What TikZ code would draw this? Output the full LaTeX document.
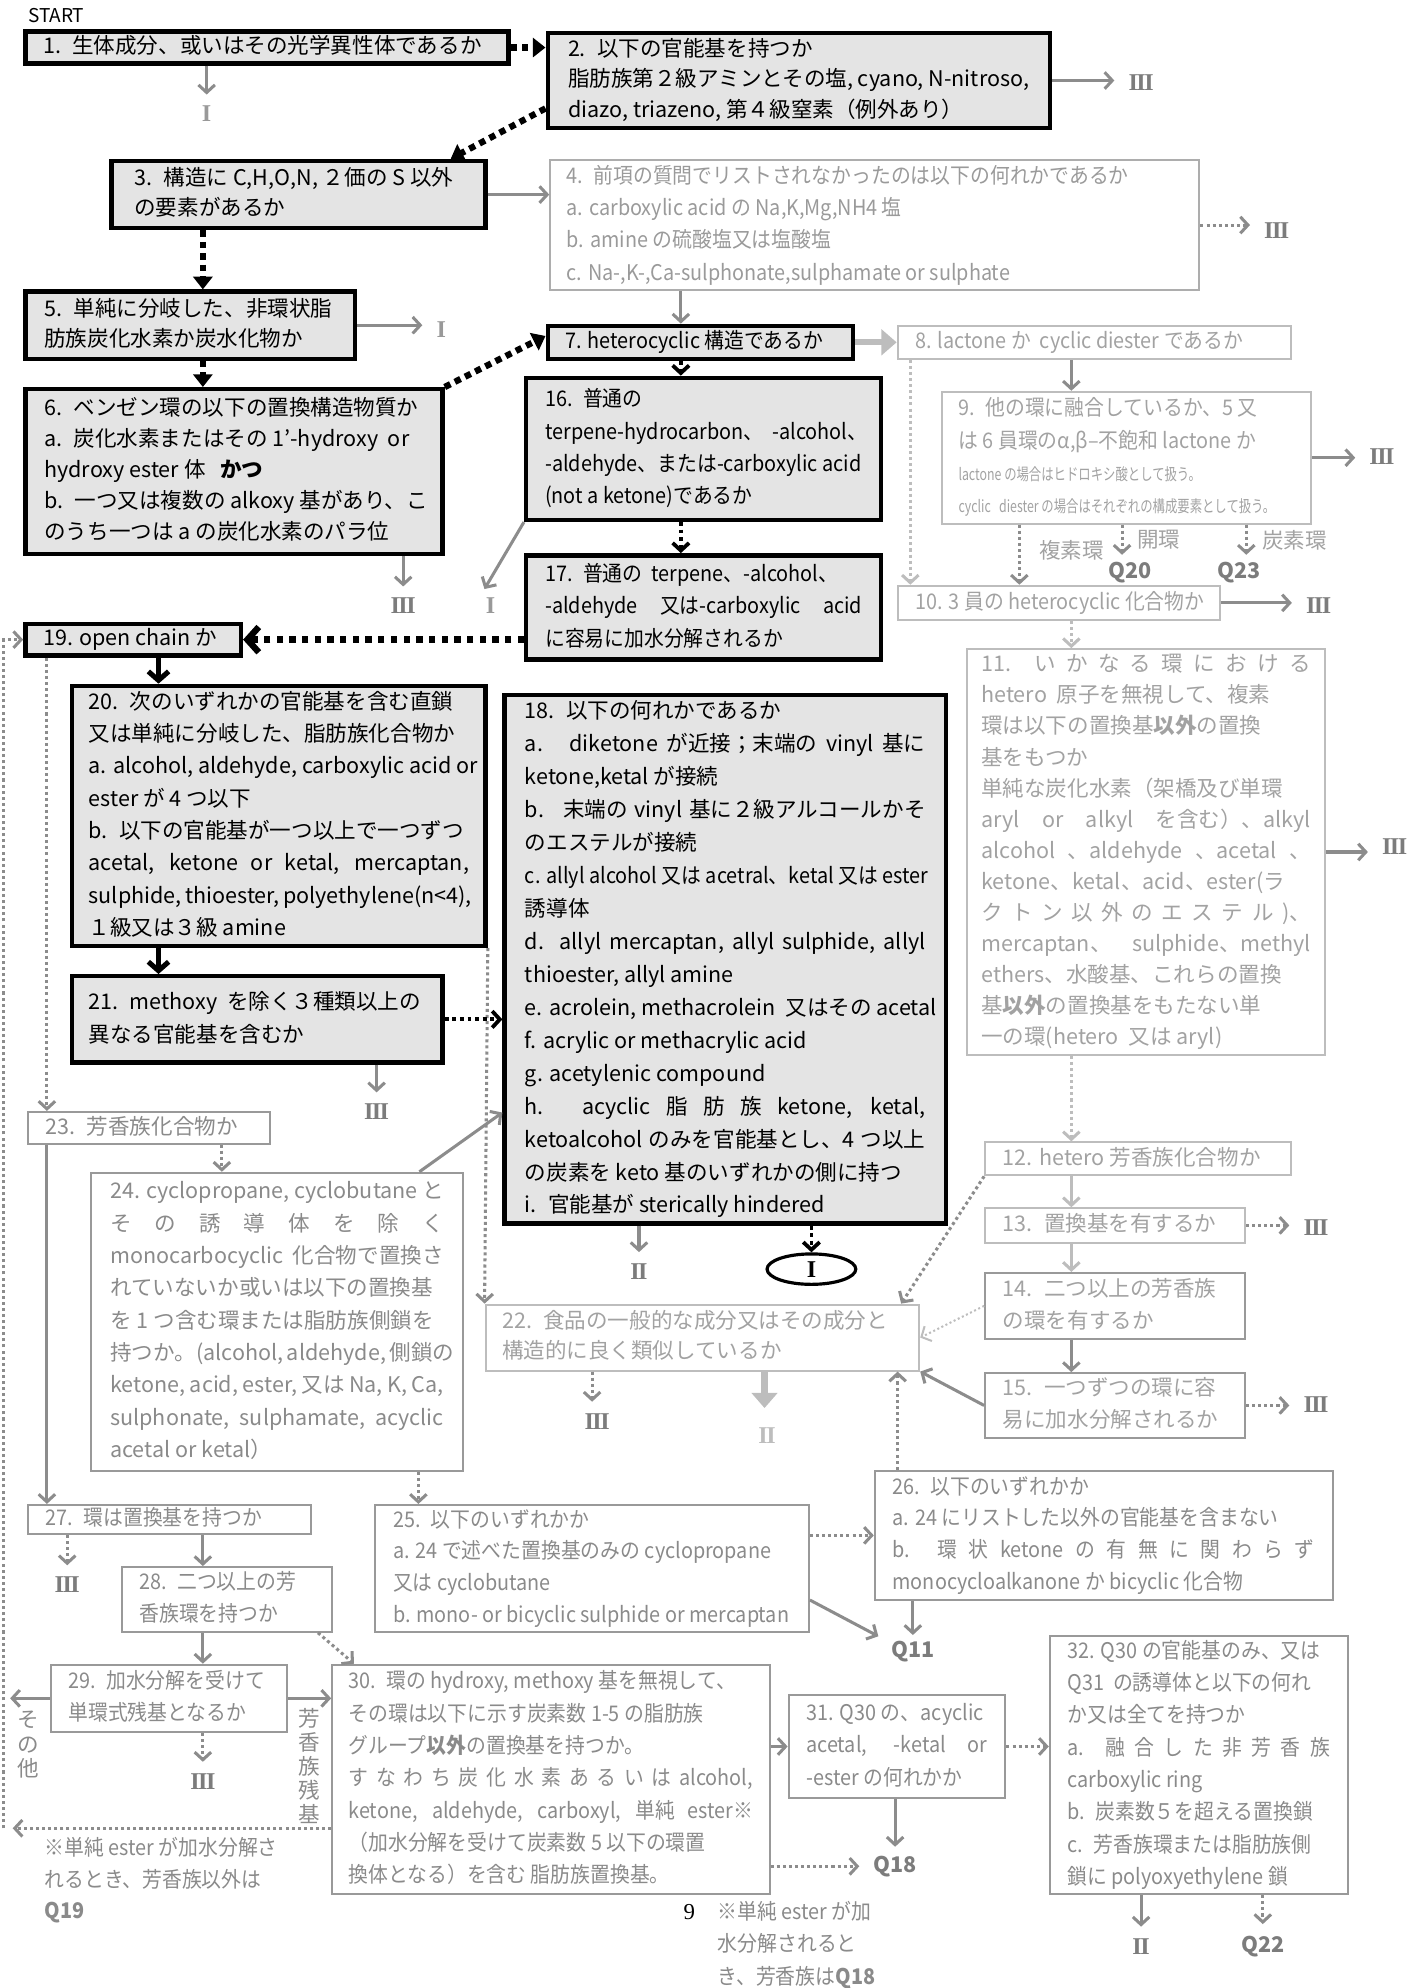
\documentclass[tikz,border=0pt]{standalone}
\usepackage{fontspec}
\setmainfont{Noto Sans CJK JP}
\newfontfamily\cond{Noto Sans CJK JP}[FakeStretch=0.92]
\newfontfamily\vcond{Noto Sans CJK JP}[FakeStretch=0.75]
\newfontfamily\serifn{Liberation Serif}
\usetikzlibrary{arrows.meta,calc,shapes.geometric}
\definecolor{stip}{HTML}{E4E4E4}
\definecolor{cA}{HTML}{8C8C8C}
\definecolor{cL}{HTML}{BDBDBD}
\definecolor{cLT}{HTML}{A2A2A2}
\definecolor{cMB}{HTML}{999999}
\definecolor{cMT}{HTML}{8A8A8A}
\definecolor{cR}{HTML}{7C7C7C}
\definecolor{cB4}{HTML}{ADADAD}
\definecolor{cT4}{HTML}{9A9A9A}
\newcommand\fsb[1]{\fontsize{17}{#1}\selectfont}
\newcommand\xs{12}
\newcommand\spr[1]{\makebox[\tw pt][s]{#1}}
\newcommand\RI{I}
\newcommand\RII{I\kern-1.2pt I}
\newcommand\RIII{I\kern-1.2pt I\kern-1.2pt I}
\newcommand\bx[7]{%
  \pgfmathsetmacro\bw{#5-#3}%
  \pgfmathsetmacro\bh{#6-#4}%
  \pgfmathsetmacro\tw{#5-#3-2*\xs}%
  \node[#1, minimum width=\bw pt, minimum height=\bh pt, inner xsep=\xs pt]
    (#2) at ({(#3+#5)/2},{(#4+#6)/2})
    {\makebox[\tw pt][l]{\begin{tabular}{@{}l@{}}#7\end{tabular}}};}
\tikzset{
  bk/.style={rectangle, draw=black, line width=3.5pt, fill=stip, text=black, inner ysep=0pt, font=\fsb{25}},
  gb/.style={rectangle, draw=cMB, line width=1.6pt, text=cMT, inner ysep=0pt, font=\fsb{25}},
  lb/.style={rectangle, draw=cL, line width=1.6pt, text=cLT, inner ysep=0pt, font=\fsb{25}},
  g4/.style={lb, draw=cB4, text=cT4},
  g14/.style={lb, draw=cMB},
  lab/.style={text=cR, inner sep=1pt, font=\fontsize{19}{20}\selectfont\serifn\bfseries},
  wlab/.style={text=cLT, inner sep=1pt, font=\fontsize{17}{20}\selectfont},
  qlab/.style={text=cR, inner sep=1pt, font=\fontsize{17}{20}\selectfont\bfseries},
  garr/.style={draw=cA, line width=2.4pt, -{Straight Barb[length=6pt,width=13pt]}},
  gdot/.style={garr, dash pattern=on 2.4pt off 2.4pt},
  larr/.style={draw=cL, line width=2.4pt, -{Straight Barb[length=6pt,width=13pt]}},
  ldot/.style={larr, dash pattern=on 2.4pt off 2.4pt},
  lthin/.style={larr, line width=1.6pt, dash pattern=on 1.6pt off 2pt},
  lthick/.style={draw=cL, line width=5pt, -{Triangle[length=12pt,width=20pt]}},
  kdot/.style={draw=black, line width=5pt, dash pattern=on 5pt off 4pt, -{Triangle[length=10pt,width=15pt]}},
  kdotc/.style={draw=black, line width=5pt, dash pattern=on 5pt off 5pt, -{Straight Barb[length=9pt,width=20pt]}},
  karr/.style={draw=black, line width=4pt, -{Straight Barb[length=7pt,width=16pt]}},
  kdotv/.style={draw=black, line width=3pt, dash pattern=on 3pt off 3pt, -{Straight Barb[length=6pt,width=13pt]}},
}
\begin{document}
\begin{tikzpicture}[x=1pt,y=-1pt]
\useasboundingbox (0,0) rectangle (1109,1568);
\node[anchor=west, inner sep=0pt, font=\fontsize{15}{18}\selectfont] (start) at (22,12) {START};
% ---------- boxes
\renewcommand\xs{14}
\bx{bk}{n1}{20}{25}{401}{50}{1.~ 生体成分、或いはその光学異性体であるか}
\renewcommand\xs{16}
\bx{bk,font=\fsb{24}}{n2}{432}{26}{828}{101}{2.~ 以下の官能基を持つか\\脂肪族第２級アミンとその塩, cyano, N-nitroso,\\diazo, triazeno, 第４級窒素（例外あり）}
\renewcommand\xs{18}
\bx{bk,font=\fsb{24}}{n3}{88}{127}{383}{180}{3.~ 構造に C,H,O,N, ２価の S 以外\\の要素があるか}
\renewcommand\xs{13}
\bx{g4,font={\cond\fsb{25.5}}}{n4}{434}{127}{946}{228}{4.~ 前項の質問でリストされなかったのは以下の何れかであるか\\a. carboxylic acid の Na,K,Mg,NH4 塩\\b. amine の硫酸塩又は塩酸塩\\c. Na-,K-,Ca-sulphonate,sulphamate or sulphate}
\renewcommand\xs{15}
\bx{bk,font=\fsb{24}}{n5}{20}{230}{280}{283}{5.~ 単純に分岐した、非環状脂\\肪族炭化水素か炭水化物か}
\bx{bk,font=\fsb{24.5}}{n6}{20}{307}{349}{437}{6.~ ベンゼン環の以下の置換構造物質か\\a.~ 炭化水素またはその 1'-hydroxy~ or\\hydroxy ester 体~~~\textbf{かつ}\\b.~ 一つ又は複数の alkoxy 基があり、こ\\のうち一つは a の炭化水素のパラ位}
\renewcommand\xs{14}
\bx{bk,font={\cond\fsb{25}}}{n7}{432}{257}{673}{283}{7. heterocyclic 構造であるか}
\bx{lb,font={\cond\fsb{25}}}{n8}{708}{257}{1018}{283}{8. lactone か~ cyclic diester であるか}
\renewcommand\xs{13}
\bx{lb,font={\cond\fsb{25.5}}}{n9}{743}{309}{1034}{413}{9.~ 他の環に融合しているか、5 又\\は 6 員環のα,β–不飽和 lactone か\\{\vcond\fontsize{13}{25}\selectfont lactone の場合はヒドロキシ酸として扱う。}\\{\vcond\fontsize{13}{25}\selectfont cyclic~~ diester の場合はそれぞれの構成要素として扱う。}}
\renewcommand\xs{14}
\bx{lb,font={\cond\fsb{25}}}{n10}{708}{462}{962}{489}{10. 3 員の heterocyclic 化合物か}
\renewcommand\xs{11}
\bx{lb,font=\fsb{24.5}}{n11}{763}{512}{1045}{832}{\spr{11. い か な る 環 に お け る}\\hetero~ 原子を無視して、複素\\環は以下の置換基\textbf{以外}の置換\\基をもつか\\単純な炭化水素（架橋及び単環\\\spr{aryl or alkyl を含む）、alkyl}\\\spr{alcohol 、aldehyde 、acetal 、}\\ketone、ketal、acid、ester(ラ\\\spr{ク ト ン 以 外 の エ ス テ ル )、}\\\spr{mercaptan、 sulphide、methyl}\\ethers、水酸基、これらの置換\\基\textbf{以外}の置換基をもたない単\\一の環(hetero~ 又は aryl)}
\renewcommand\xs{14}
\bx{lb}{n12}{777}{901}{1018}{927}{12. hetero 芳香族化合物か}
\bx{lb}{n13}{777}{953}{982}{980}{13.~ 置換基を有するか}
\bx{g14}{n14}{777}{1004}{982}{1056}{14.~ 二つ以上の芳香族\\の環を有するか}
\bx{g14}{n15}{777}{1083}{982}{1134}{15.~ 一つずつの環に容\\易に加水分解されるか}
\renewcommand\xs{15}
\bx{bk,font={\cond\fsb{25.5}}}{n16}{415}{298}{695}{410}{16.~ 普通の\\terpene-hydrocarbon、~ -alcohol、\\-aldehyde、または-carboxylic acid\\(not a ketone)であるか}
\bx{bk,font={\cond\fsb{25.5}}}{n17}{415}{438}{695}{520}{17.~ 普通の~ terpene、-alcohol、\\\spr{-aldehyde 又は-carboxylic acid}\\に容易に加水分解されるか}
\renewcommand\xs{16}
\bx{bk,font=\fsb{26}}{n18}{398}{548}{746}{965}{18.~ 以下の何れかであるか\\\spr{a.~ diketone が近接；末端の vinyl 基に}\\ketone,ketal が接続\\\spr{b.~ 末端の vinyl 基に２級アルコールかそ}\\のエステルが接続\\{\cond c. allyl alcohol 又は acetral、ketal 又は ester}\\誘導体\\\spr{d. allyl mercaptan, allyl sulphide, allyl}\\thioester, allyl amine\\e. acrolein, methacrolein~ 又はその acetal\\f. acrylic or methacrylic acid\\g. acetylenic compound\\\spr{h. acyclic 脂 肪 族 ketone, ketal,}\\\spr{ketoalcohol のみを官能基とし、4 つ以上}\\の炭素を keto 基のいずれかの側に持つ\\i.~ 官能基が sterically hindered}
\renewcommand\xs{14}
\bx{bk}{n19}{20}{492}{190}{517}{19. open chain か}
\renewcommand\xs{13}
\bx{bk,font=\fsb{25.5}}{n20}{57}{541}{383}{746}{20.~ 次のいずれかの官能基を含む直鎖\\又は単純に分岐した、脂肪族化合物か\\a. alcohol, aldehyde, carboxylic acid or\\ester が 4 つ以下\\b.~ 以下の官能基が一つ以上で一つずつ\\\spr{acetal, ketone or ketal, mercaptan,}\\\spr{sulphide, thioester, polyethylene(n<4),}\\１級又は３級 amine}
\bx{bk,font=\fsb{26}}{n21}{57}{770}{349}{838}{21.~ methoxy~ を除く３種類以上の\\異なる官能基を含むか}
\bx{lb,font=\fsb{24}}{n22}{383}{1029}{725}{1081}{22.~ 食品の一般的な成分又はその成分と\\構造的に良く類似しているか}
\renewcommand\xs{14}
\bx{gb}{n23}{22}{877}{213}{902}{23.~ 芳香族化合物か}
\renewcommand\xs{15}
\bx{gb,font=\fsb{25.5}}{n24}{72}{925}{365}{1160}{\spr{24. cyclopropane, cyclobutane と}\\\spr{そ の 誘 導 体 を 除 く}\\\spr{monocarbocyclic 化合物で置換さ}\\れていないか或いは以下の置換基\\を 1 つ含む環または脂肪族側鎖を\\\spr{持つか。(alcohol, aldehyde, 側鎖の}\\\spr{ketone, acid, ester, 又は Na, K, Ca,}\\\spr{sulphonate, sulphamate, acyclic}\\acetal or ketal）}
\renewcommand\xs{14}
\bx{gb,font={\cond\fsb{25}}}{n25}{296}{1187}{638}{1287}{25.~ 以下のいずれかか\\a. 24 で述べた置換基のみの cyclopropane\\又は cyclobutane\\b. mono- or bicyclic sulphide or mercaptan}
\bx{gb,font={\cond\fsb{25}}}{n26}{690}{1160}{1051}{1262}{26.~ 以下のいずれかか\\a. 24 にリストした以外の官能基を含まない\\\spr{b. 環 状 ketone の 有 無 に 関 わ ら ず}\\monocycloalkanone か bicyclic 化合物}
\bx{gb,font={\cond\fsb{23}}}{n27}{22}{1187}{245}{1210}{27.~ 環は置換基を持つか}
\bx{gb,font={\cond\fsb{25}}}{n28}{96}{1236}{262}{1287}{28.~ 二つ以上の芳\\香族環を持つか}
\bx{gb,font={\cond\fsb{25}}}{n29}{40}{1313}{226}{1366}{29.~ 加水分解を受けて\\単環式残基となるか}
\renewcommand\xs{13}
\bx{gb,font={\cond\fsb{25.5}}}{n30}{262}{1313}{607}{1494}{30.~ 環の hydroxy, methoxy 基を無視して、\\その環は以下に示す炭素数 1-5 の脂肪族\\グループ\textbf{以外}の置換基を持つか。\\\spr{す な わ ち 炭 化 水 素 あ る い は alcohol,}\\\spr{ketone, aldehyde, carboxyl, 単純 ester※}\\（加水分解を受けて炭素数 5 以下の環置\\換体となる）を含む 脂肪族置換基。}
\renewcommand\xs{14}
\bx{gb,font={\cond\fsb{25.5}}}{n31}{622}{1337}{793}{1418}{31. Q30 の、acyclic\\\spr{acetal, -ketal or}\\-ester の何れかか}
\bx{gb,font={\cond\fsb{25.5}}}{n32}{828}{1290}{1063}{1494}{32. Q30 の官能基のみ、又は\\Q31~ の誘導体と以下の何れ\\か又は全てを持つか\\\spr{a. 融 合 し た 非 芳 香 族}\\carboxylic ring\\b.~ 炭素数５を超える置換鎖\\c.~ 芳香族環または脂肪族側\\鎖に polyoxyethylene 鎖}
\node[draw=black, line width=2.5pt, ellipse, minimum width=70pt, minimum height=24pt, inner sep=0pt, font=\fontsize{19}{20}\selectfont\serifn\bfseries] (el) at (640,1001) {\RI};
% ---------- labels
\node[lab, text=cMB] (i1) at (163,90) {\RI};
\node[lab] (t2) at (900,65) {\RIII};
\node[lab] (t4) at (1007,182) {\RIII};
\node[lab, text=cMB] (t5) at (348,260) {\RI};
\node[lab] (t6) at (318,478) {\RIII};
\node[lab, text=cMB] (t16) at (387,478) {\RI};
\node[lab] (t9) at (1090,360) {\RIII};
\node[lab] (t10) at (1040,478) {\RIII};
\node[lab] (t11) at (1100,668) {\RIII};
\node[lab] (t13) at (1038,968) {\RIII};
\node[lab] (t15) at (1038,1108) {\RIII};
\node[lab] (t21) at (297,877) {\RIII};
\node[lab] (t18) at (504,1003) {\RII};
\node[lab] (t22a) at (471,1121) {\RIII};
\node[lab, text=cL] (t22b) at (605,1132) {\RII};
\node[lab] (t27) at (53,1250) {\RIII};
\node[lab] (t29) at (160,1405) {\RIII};
\node[lab] (t32) at (900,1535) {\RII};
\node[qlab] (q20) at (891,452) {Q20};
\node[qlab] (q23) at (977,452) {Q23};
\node[qlab] (q11) at (720,1303) {Q11};
\node[qlab] (q18) at (706,1472) {Q18};
\node[qlab] (q22) at (996,1535) {Q22};
\node[wlab] (w1) at (845,434) {複素環};
\node[wlab] (w2) at (914,426) {開環};
\node[wlab] (w3) at (1021,426) {炭素環};
\node[wlab, text=cMT, align=center, font=\fontsize{17}{19}\selectfont] (sono) at (22,1376) {そ\\の\\他};
\node[wlab, text=cMT, align=center, font=\fontsize{17}{19}\selectfont] (arom) at (244,1393) {芳\\香\\族\\残\\基};
\node[anchor=west, text=cMT, align=left, inner sep=0pt, font={\cond\fsb{25}}] (note1) at (35,1483) {※単純 ester が加水分解さ\\れるとき、芳香族以外は\\\textbf{Q19}};
\node[anchor=west, inner sep=0pt, font=\fontsize{18}{20}\selectfont\serifn] (pg) at (539,1508) {9};
\node[anchor=west, text=cMT, align=left, inner sep=0pt, font={\cond\fsb{25.5}}] (note2) at (566,1534) {※単純 ester が加\\水分解されると\\き、芳香族は\textbf{Q18}};
% ---------- guide coordinates
\coordinate (x160) at (160,0);
\coordinate (x537) at (537,0);
\coordinate (x845) at (845,0);
\coordinate (x718) at (718,0);
\coordinate (x804) at (804,0);
\coordinate (x885) at (885,0);
\coordinate (x983) at (983,0);
\coordinate (x125) at (125,0);
\coordinate (x37) at (37,0);
\coordinate (x175) at (175,0);
\coordinate (x330) at (330,0);
\coordinate (x708) at (708,0);
\coordinate (x467) at (467,0);
\coordinate (x603) at (603,0);
\coordinate (lo) at (8,1339.5);
\coordinate (cb) at (10,1442);
\coordinate (cbl) at (3,1442);
% ---------- connectors
\draw[kdot] (n1.east) -- (n1.east -| n2.west);
\draw[garr, shorten >=8pt] (n1.south -| i1) -- (i1.north);
\draw[garr, shorten >=10pt] (n2.east) -- (n2.east -| t2.west);
\draw[kdot] ([yshift=-22pt]n2.west) -- ([xshift=120pt]n3.north);
\draw[garr] (n3.east) -- (n3.east -| n4.west);
\draw[kdot] (n3.south -| x160) -- (n5.north -| x160);
\draw[gdot, shorten >=10pt] (n4.east) -- (n4.east -| t4.west);
\draw[garr] (n4.south -| x537) -- (n7.north -| x537);
\draw[garr, shorten >=10pt] (n5.east) -- (n5.east -| t5.west);
\draw[kdot] (n5.south -| x160) -- (n6.north -| x160);
\draw[kdot] (n6.north east) -- ([yshift=5pt]n7.west);
\draw[garr, shorten >=8pt] (n6.south -| t6) -- (t6.north);
\draw[lthick] (n7.east) -- (n8.west);
\draw[kdotv] (n7.south -| x537) -- (n16.north -| x537);
\draw[garr] (n8.south -| x845) -- (n9.north -| x845);
\draw[ldot] (n8.south -| x718) -- (n10.north -| x718);
\draw[garr, shorten >=10pt] (n9.east) -- (n9.east -| t9.west);
\draw[gdot] (n9.south -| x804) -- (n10.north -| x804);
\draw[gdot, shorten >=5pt] (n9.south -| x885) -- (q20.north -| x885);
\draw[gdot, shorten >=5pt] (n9.south -| x983) -- (q23.north -| x983);
\draw[garr, shorten >=10pt] (n10.east) -- (n10.east -| t10.west);
\draw[ldot] (n10.south -| x845) -- (n11.north -| x845);
\draw[garr, shorten >=10pt] (n11.east) -- (n11.east -| t11.west);
\draw[ldot] (n11.south -| x845) -- (n12.north -| x845);
\draw[larr] (n12.south -| x845) -- (n13.north -| x845);
\draw[gdot] (n12.south west) -- ([xshift=-15pt]n22.north east);
\draw[gdot, shorten >=10pt] (n13.east) -- (n13.east -| t13.west);
\draw[larr] (n13.south -| x845) -- (n14.north -| x845);
\draw[lthin] (n14.west) -- (n22.east);
\draw[garr] (n14.south -| x845) -- (n15.north -| x845);
\draw[gdot, shorten >=10pt] (n15.east) -- (n15.east -| t15.west);
\draw[garr] (n15.west) -- (n22.south east);
\draw[garr] (n16.south west) -- ([yshift=6pt]t16.north west);
\draw[kdotv] (n16.south -| x537) -- (n17.north -| x537);
\draw[kdotc] (n19.east -| n17.west) -- (n19.east);
\draw[karr] (n19.south -| x125) -- (n20.north -| x125);
\draw[gdot] (n19.south -| x37) -- (n23.north -| x37);
\draw[karr] (n20.south -| x125) -- (n21.north -| x125);
\draw[gdot] (n20.south east) -- (n22.north west);
\draw[kdotv] (n21.east) -- (n21.east -| n18.west);
\draw[garr, shorten >=8pt] (n21.south -| t21) -- (t21.north);
\draw[garr, shorten >=8pt] (n18.south -| t18) -- (t18.north);
\draw[kdotv] (n18.south -| el) -- (el.north);
\draw[garr] (n23.south -| x37) -- (n27.north -| x37);
\draw[gdot] (n23.south -| x175) -- (n24.north -| x175);
\draw[garr] ([xshift=-35pt]n24.north east) -- ([yshift=-121pt]n18.west);
\draw[gdot] (n24.south -| x330) -- (n25.north -| x330);
\draw[gdot, shorten >=8pt] (n22.south -| x467) -- (t22a.north -| x467);
\draw[lthick, shorten >=14pt] (n22.south -| x603) -- (t22b.north -| x603);
\draw[gdot] (n26.north -| x708) -- (n22.south -| x708);
\draw[gdot] (n26.west -| n25.east) -- (n26.west);
\draw[garr] ([yshift=-25pt]n25.east) -- ([xshift=-9pt,yshift=3pt]q11.north west);
\draw[garr, shorten >=4pt] (n26.south -| q11) -- (q11.north);
\draw[gdot, shorten >=8pt] (n27.south -| t27) -- (t27.north);
\draw[garr] (n27.south -| x160) -- (n28.north -| x160);
\draw[garr] (n28.south -| x160) -- (n29.north -| x160);
\draw[gdot] ([xshift=-12pt]n28.south east) -- ([xshift=18pt]n30.north west);
\draw[garr] (n29.west) -- (lo);
\draw[garr] (n29.east) -- (n29.east -| n30.west);
\draw[gdot, shorten >=8pt] (n29.south -| x160) -- (t29.north -| x160);
\draw[gdot] (n30.west |- cb) -- (cb);
\draw[gdot] (cbl) |- (n19.west);
\draw[garr] (n31.west -| n30.east) -- (n31.west);
\draw[gdot, shorten >=10pt] (q18.west -| n30.east) -- (q18.west);
\draw[garr, shorten >=6pt] (n31.south -| q18) -- (q18.north);
\draw[gdot] (n31.east) -- (n31.east -| n32.west);
\draw[garr, shorten >=8pt] (n32.south -| t32) -- (t32.north);
\draw[gdot, shorten >=8pt] (n32.south -| q22) -- (q22.north);
\end{tikzpicture}
\end{document}
